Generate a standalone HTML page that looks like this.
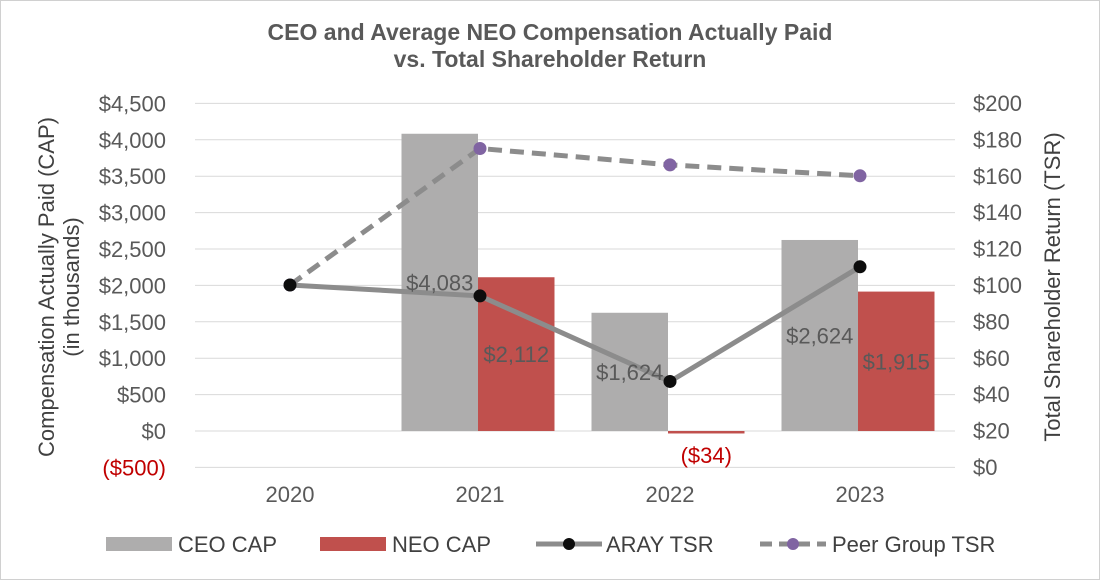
<!DOCTYPE html>
<html><head><meta charset="utf-8"><style>
html,body{margin:0;padding:0;background:#fff;}
svg{display:block;font-family:"Liberation Sans",Arial,sans-serif;}
</style></head><body>
<svg id="c" width="1100" height="580" viewBox="0 0 1100 580">
<rect x="0.5" y="0.5" width="1099" height="579" fill="#fff" stroke="#d0d0d0"/>
<text x="550" y="40" text-anchor="middle" font-size="23" font-weight="bold" fill="#595959">CEO and Average NEO Compensation Actually Paid</text>
<text x="550" y="67" text-anchor="middle" font-size="23" font-weight="bold" fill="#595959">vs. Total Shareholder Return</text>
<g id="grid"></g><g id="bars"></g><g id="lines"></g><g id="labels"></g><g id="axes"></g>
<text transform="translate(54,287) rotate(-90)" text-anchor="middle" font-size="22" fill="#404040">Compensation Actually Paid (CAP)</text>
<text transform="translate(79,287) rotate(-90)" text-anchor="middle" font-size="22" fill="#404040">(in thousands)</text>
<text transform="translate(1060,287) rotate(-90)" text-anchor="middle" font-size="22" fill="#404040">Total Shareholder Return (TSR)</text>
<g font-size="22" fill="#404040">
<rect x="106" y="537" width="66" height="14" fill="#aeadad"/>
<text x="178" y="552">CEO CAP</text>
<rect x="320" y="537" width="66" height="14" fill="#c0504d"/>
<text x="392" y="552">NEO CAP</text>
<line x1="536" y1="544" x2="602" y2="544" stroke="#8c8c8c" stroke-width="5"/>
<circle cx="569" cy="544" r="6" fill="#0d0d0d"/>
<text x="606" y="552">ARAY TSR</text>
<line x1="760" y1="544" x2="826" y2="544" stroke="#8c8c8c" stroke-width="5" stroke-dasharray="12,7"/>
<circle cx="793" cy="544" r="6" fill="#8064a2"/>
<text x="832" y="552">Peer Group TSR</text>
</g>
</svg>
<script>
const categories=["2020","2021","2022","2023"];
const ceoCap=[null,4083,1624,2624];
const neoCap=[null,2112,-34,1915];
const arayTsr=[100,94,47,110];
const peerTsr=[100,175,166,160];
const leftTicks=[-500,0,500,1000,1500,2000,2500,3000,3500,4000,4500];
const rightTicks=[0,20,40,60,80,100,120,140,160,180,200];
const NS="http://www.w3.org/2000/svg";
const X0=195,X1=955,band=(X1-X0)/categories.length;
const yL=v=>431-v*(364/5000);
const yR=v=>467-v*(364/200);
const xC=i=>X0+band*(i+0.5);
function mk(p,tag,a){const e=document.createElementNS(NS,tag);for(const k in a)e.setAttribute(k,a[k]);document.getElementById(p).appendChild(e);return e;}
const fmt=v=>v<0?"($"+Math.abs(v).toLocaleString("en-US")+")":"$"+v.toLocaleString("en-US");
leftTicks.forEach(t=>{
 const g=mk("grid","line",{x1:X0,x2:X1,y1:yL(t),y2:yL(t),stroke:"#d9d9d9","stroke-width":1});
 
 
 const tx=mk("axes","text",{x:166,y:yL(t)+8,"text-anchor":"end","font-size":22,fill:t<0?"#c00000":"#595959"});
 tx.textContent=fmt(t);
 
 
});
rightTicks.forEach(t=>{
 const tx=mk("axes","text",{x:973,y:yR(t)+8,"text-anchor":"start","font-size":22,fill:"#595959"});
 tx.textContent="$"+t;
 
 
});
categories.forEach((c,i)=>{
 const tx=mk("axes","text",{x:xC(i),y:502,"text-anchor":"middle","font-size":22,fill:"#595959"});
 tx.textContent=c;
 
 
});
const bw=76.5;
categories.forEach((c,i)=>{
 [[ceoCap,"#aeadad",-1,"ceo"],[neoCap,"#c0504d",0,"neo"]].forEach(([arr,col,off,nm])=>{
  const v=arr[i]; if(v==null)return;
  const x=xC(i)-2+off*bw, y0=yL(0), y1=yL(v);
  const r=mk("bars","rect",{x:x,y:Math.min(y0,y1),width:bw,height:Math.max(1.5,Math.abs(y1-y0)),fill:col});
  
  
  const ly=v<0?y0+32:(y0+y1)/2+8;
  const t=mk("labels","text",{x:x+bw/2,y:ly,"text-anchor":"middle","font-size":22,fill:v<0?"#c00000":"#595959"});
  t.textContent=fmt(v);
  
  
 });
});
function series(arr,col,dash,nm){
 const pts=arr.map((v,i)=>xC(i)+","+yR(v)).join(" ");
 const p=mk("lines","polyline",{points:pts,fill:"none",stroke:"#8c8c8c","stroke-width":5,"stroke-dasharray":dash});
 
 
 arr.forEach((v,i)=>{
  const m=mk("lines","circle",{cx:xC(i),cy:yR(v),r:6.5,fill:col});
  
  
 });
}
series(peerTsr,"#8064a2","14,8","peer-tsr");
series(arayTsr,"#0d0d0d","none","aray-tsr");
</script>
</body></html>
